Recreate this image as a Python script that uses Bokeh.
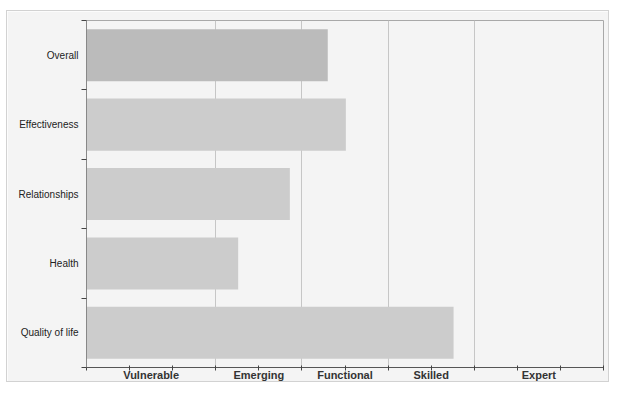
from bokeh.plotting import figure
from bokeh.models import Range1d, FixedTicker, ColumnDataSource
from bokeh.embed import file_html
from bokeh.resources import INLINE

# ---- data ----
categories = ["Overall", "Effectiveness", "Relationships", "Health", "Quality of life"]
scores = [2.80, 3.01, 2.36, 1.76, 4.26]
bar_colors = ["#bbbbbb", "#cccccc", "#cccccc", "#cccccc", "#cccccc"]
level_labels = ["Vulnerable", "Emerging", "Functional", "Skilled", "Expert"]
level_centers = [0.75, 2.0, 3.0, 4.0, 5.25]
level_bounds = [1.5, 2.5, 3.5, 4.5]
x_max = 6.0

n = len(categories)
ypos = [n - i - 0.5 for i in range(n)]

src = ColumnDataSource(dict(y=ypos, right=scores, color=bar_colors, cat=categories))

p = figure(width=603, height=372, output_backend="svg", toolbar_location=None,
           x_range=Range1d(0, x_max), y_range=Range1d(0, n),
           min_border_left=79, min_border_right=7, min_border_top=9, min_border_bottom=16,
           background_fill_color="#f4f4f4", border_fill_color="#f4f4f4",
           styles={"border": "1px solid #d2d2d2"}, margin=(10, 0, 0, 6))

p.hbar(y="y", left=0, right="right", height=0.75, color="color", line_color=None, source=src)

p.outline_line_color = "#a8a8a8"

# x axis
xa = p.xaxis[0]
xa.ticker = FixedTicker(ticks=level_centers, minor_ticks=[i * 0.5 for i in range(int(x_max * 2) + 1)])
xa.major_label_overrides = {c: l for c, l in zip(level_centers, level_labels)}
xa.major_tick_line_color = None
xa.major_tick_in = 0
xa.major_tick_out = 0
xa.minor_tick_in = 2
xa.minor_tick_out = 3
xa.minor_tick_line_color = "#444444"
xa.axis_line_color = "#555555"
xa.major_label_standoff = -2
xa.major_label_text_font = "Liberation Sans"
xa.major_label_text_font_style = "bold"
xa.major_label_text_font_size = "11px"
xa.major_label_text_color = "#333333"

# y axis
ya = p.yaxis[0]
ya.ticker = FixedTicker(ticks=ypos, minor_ticks=list(range(n + 1)))
ya.major_label_overrides = {y: c for y, c in zip(ypos, categories)}
ya.major_tick_line_color = None
ya.major_tick_in = 0
ya.major_tick_out = 0
ya.minor_tick_in = 0
ya.minor_tick_out = 5
ya.minor_tick_line_color = "#444444"
ya.axis_line_color = "#888888"
ya.major_label_standoff = 3
ya.major_label_text_font = "Liberation Sans"
ya.major_label_text_font_size = "10px"
ya.major_label_text_color = "#222222"

p.xgrid.ticker = FixedTicker(ticks=level_bounds)
p.xgrid.grid_line_color = "#c6c6c6"
p.ygrid.grid_line_color = None

open("out.html", "w").write(file_html(p, INLINE))
